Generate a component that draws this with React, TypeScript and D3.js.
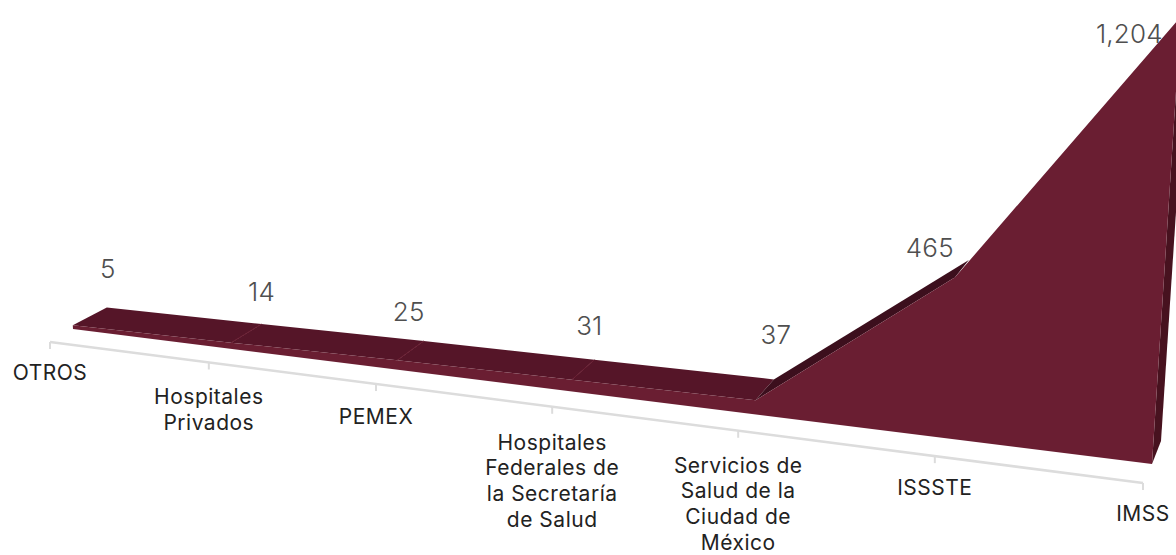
import React from 'react';
import * as d3 from 'd3';

const categories = ['OTROS', 'Hospitales Privados', 'PEMEX', 'Hospitales Federales de la Secretaría de Salud', 'Servicios de Salud de la Ciudad de México', 'ISSSTE', 'IMSS'];
const categoryLines = [
  ['OTROS'],
  ['Hospitales', 'Privados'],
  ['PEMEX'],
  ['Hospitales', 'Federales de', 'la Secretaría', 'de Salud'],
  ['Servicios de', 'Salud de la', 'Ciudad de', 'México'],
  ['ISSSTE'],
  ['IMSS'],
];
const values = [5, 14, 25, 31, 37, 465, 1204];
const valueLabels = ['5', '14', '25', '31', '37', '465', '1,204'];
// hand placed offsets of the labels from the ribbon and the axis
const labelNudgeX = [1, 0, -15, -5, 2, -39, -60];
const labelNudgeY = [-29, -23, -20, -25, -35, -3, 36];
const categoryNudgeY = [-2, 2, 0, 3, 2, -1, -2];

const width = 1176;
const height = 555;
const colour = { front: '#6a1e32', top: '#551528', sliver: '#3c0f1d', side: '#47121f', axis: '#dcdcdc', value: '#4f4f4f', label: '#222222' };

// position along the category axis, squeezed for perspective
const persp = (t: number, k: number) => (t * (1 - k)) / (1 - k * t);
const t = d3.scalePoint<string>().domain(categories).range([0, 1]);

const frontX = d3.scaleLinear().domain([0, 1]).range([73, 1152]);
const backX = d3.scaleLinear().domain([0, 1]).range([107, 1161]);
const axisX = d3.scaleLinear().domain([0, 1]).range([50, 1143]);
const frontY = d3.scaleLinear().domain([73, 1152]).range([329, 464]);
const backY = d3.scaleLinear().domain([107, 1161]).range([311, 441]);
const axisY = d3.scaleLinear().domain([50, 1143]).range([342, 483]);
const heightScale = d3.scaleLinear().domain([0, 1204]).range([0, 298]);

const baseThickness = 2.5;
const backShrink = 0.97;
const lean = (x: number) => (x - 588) / 8760;

type Pt = [number, number];

const ground = (i: number, edge: 'front' | 'back'): Pt => {
  const u = persp(t(categories[i]) as number, 0.14);
  const x = edge === 'front' ? frontX(u) : backX(u);
  return [x, edge === 'front' ? frontY(x) : backY(x)];
};

const topPoint = (i: number, edge: 'front' | 'back'): Pt => {
  const [x, y] = ground(i, edge);
  const tt = t(categories[i]) as number;
  const h = (baseThickness + heightScale(values[i]) / (1 - 0.33 * tt)) * (edge === 'back' ? backShrink : 1);
  return [x + h * lean(x), y - h];
};

const line = d3.line<Pt>().curve(d3.curveLinearClosed);

const App = () => {
  const last = values.length - 1;
  const frontFace: Pt[] = [
    ...values.map((_, i) => topPoint(i, 'front')),
    ground(last, 'front'),
    ground(0, 'front'),
  ];
  const sideFace: Pt[] = [ground(last, 'front'), topPoint(last, 'front'), topPoint(last, 'back'), ground(last, 'back')];
  const axisPoints = categories.map((c) => {
    const x = axisX(persp(t(c) as number, 0.15));
    return [x, axisY(x)] as Pt;
  });

  return (
    <svg width={width} height={height} style={{ position: 'absolute', left: 0, top: 0, display: 'block' }}>
      <line x1={axisPoints[0][0]} y1={axisPoints[0][1]} x2={axisPoints[last][0]} y2={axisPoints[last][1]} stroke={colour.axis} strokeWidth={2.5} />
      {axisPoints.map(([x, y], i) => (
        <line key={i} x1={x} y1={y} x2={x} y2={y + 7} stroke={colour.axis} strokeWidth={2} />
      ))}
      <path d={line(sideFace) as string} fill={colour.side} />
      {values.slice(0, 5).map((_, i) => (
        <path
          key={i}
          d={line([topPoint(i, 'front'), topPoint(i + 1, 'front'), topPoint(i + 1, 'back'), topPoint(i, 'back')]) as string}
          fill={i === 4 ? colour.sliver : colour.top}
        />
      ))}
      {[1, 2, 3].map((i) => {
        const a = topPoint(i, 'front');
        const b = topPoint(i, 'back');
        return <line key={i} x1={a[0]} y1={a[1]} x2={b[0]} y2={b[1]} stroke={colour.front} strokeWidth={1} />;
      })}
      <path d={line(frontFace) as string} fill={colour.front} />
      {valueLabels.map((label, i) => {
        const [x, y] = topPoint(i, 'back');
        return (
          <text key={label} x={x + labelNudgeX[i]} y={y + labelNudgeY[i]} textAnchor="middle" fontFamily="Inter" fontWeight={300} fontSize={26} letterSpacing={0.2} fill={colour.value}>
            {label}
          </text>
        );
      })}
      {categoryLines.map((lines, i) => (
        <text key={i} textAnchor="middle" fontFamily="Inter" fontSize={21} letterSpacing={0.5} fill={colour.label}>
          {lines.map((l, j) => (
            <tspan key={j} x={axisPoints[i][0]} y={axisPoints[i][1] + 40 + categoryNudgeY[i] + j * 25.7}>
              {l}
            </tspan>
          ))}
        </text>
      ))}
    </svg>
  );
};

export default App;
